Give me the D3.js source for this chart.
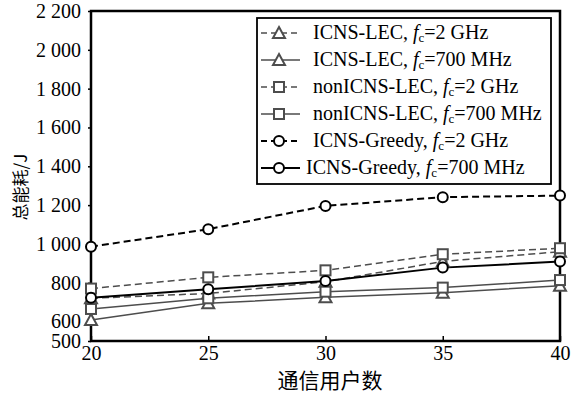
<!DOCTYPE html>
<html>
<head>
<meta charset="utf-8">
<script src="https://cdn.jsdelivr.net/npm/d3@7.9.0/dist/d3.min.js"></script>
<style>
  body { margin: 0; background: #fff; }
  text { font-family: "Liberation Serif", "DejaVu Serif", serif; }
  .cjk { font-family: "Noto Sans CJK SC", sans-serif; }
</style>
</head>
<body>
<svg id="chart" width="580" height="396"></svg>
<script>
// users on the x axis
const users = [20, 25, 30, 35, 40];
const yTicks = [500, 600, 800, 1000, 1200, 1400, 1600, 1800, 2000, 2200];

// total energy (J) per scheme
const lec2G      = [720, 745, 805, 910, 960];
const lec700M    = [608, 694, 725, 749, 785];
const nonLec2G   = [770, 828, 864, 947, 978];
const nonLec700M = [665, 720, 754, 775, 814];
const greedy2G   = [986, 1076, 1196, 1241, 1249];
const greedy700M = [723, 766, 809, 878, 909];

const gray = '#4d4d4d';
const series = [
  { name: 'ICNS-LEC,', fc: '=2 GHz', values: lec2G, dash: true, shape: 'tri', color: gray },
  { name: 'ICNS-LEC,', fc: '=700 MHz', values: lec700M, dash: false, shape: 'tri', color: gray },
  { name: 'nonICNS-LEC,', fc: '=2 GHz', values: nonLec2G, dash: true, shape: 'sq', color: gray },
  { name: 'nonICNS-LEC,', fc: '=700 MHz', values: nonLec700M, dash: false, shape: 'sq', color: gray },
  { name: 'ICNS-Greedy,', fc: '=2 GHz', values: greedy2G, dash: true, shape: 'circ', color: '#000' },
  { name: 'ICNS-Greedy,', fc: '=700 MHz', values: greedy700M, dash: false, shape: 'circ', color: '#000' },
];

const svg = d3.select('#chart');
const pLeft = 91, pRight = 560, pTop = 11, pBottom = 341;

const x = d3.scaleLinear().domain([20, 40]).range([pLeft, pRight]);
const y = d3.scaleLinear().domain([500, 2200]).range([pBottom, pTop]);

// axes
const fmt = (d) => d3.format(',')(d).replace(',', ' ');

const xAxis = svg.append('g')
  .attr('transform', `translate(0,${pBottom})`)
  .call(d3.axisBottom(x).tickValues(users).tickSizeInner(-5).tickSizeOuter(0).tickPadding(5));
xAxis.select('.domain').remove();
xAxis.selectAll('line').attr('stroke', '#000').attr('stroke-width', 1.5);
xAxis.selectAll('text').attr('font-size', 20).attr('fill', '#000');

const yAxis = svg.append('g')
  .attr('transform', `translate(${pLeft},0)`)
  .call(d3.axisLeft(y).tickValues(yTicks).tickFormat(fmt).tickSizeInner(3).tickSizeOuter(0).tickPadding(7));
yAxis.select('.domain').remove();
yAxis.selectAll('line').attr('stroke', '#000').attr('stroke-width', 1.5);
yAxis.selectAll('text').attr('font-size', 20).attr('fill', '#000');

// frame
svg.append('rect')
  .attr('x', pLeft).attr('y', pTop)
  .attr('width', pRight - pLeft).attr('height', pBottom - pTop)
  .attr('fill', 'none').attr('stroke', '#000').attr('stroke-width', 2.5);

// markers
function marker(g, shape, cx, cy, color) {
  if (shape === 'tri') {
    g.append('path')
      .attr('d', `M${cx},${cy - 6}L${cx + 6},${cy + 5}L${cx - 6},${cy + 5}Z`)
      .attr('fill', '#fff').attr('stroke', color).attr('stroke-width', 2);
  } else if (shape === 'sq') {
    g.append('rect')
      .attr('x', cx - 5).attr('y', cy - 5).attr('width', 10).attr('height', 10)
      .attr('fill', '#fff').attr('stroke', color).attr('stroke-width', 2);
  } else {
    g.append('circle')
      .attr('cx', cx).attr('cy', cy).attr('r', 5)
      .attr('fill', '#fff').attr('stroke', color).attr('stroke-width', 2);
  }
}

const line = d3.line().x((d, i) => x(users[i])).y((d) => y(d));

series.forEach((s) => {
  svg.append('path')
    .attr('d', line(s.values))
    .attr('fill', 'none')
    .attr('stroke', s.color)
    .attr('stroke-width', s.color === '#000' ? 2 : 1.5)
    .attr('stroke-dasharray', s.dash ? '7,4' : null);
});
series.forEach((s) => {
  const g = svg.append('g');
  s.values.forEach((v, i) => marker(g, s.shape, x(users[i]), y(v), s.color));
});

// legend
const lg = svg.append('g');
lg.append('rect')
  .attr('x', 257).attr('y', 18).attr('width', 294).attr('height', 166)
  .attr('fill', '#fff').attr('stroke', '#000').attr('stroke-width', 1.8);

series.forEach((s, i) => {
  const cy = 33 + i * 27;
  lg.append('line')
    .attr('x1', 261).attr('x2', 300).attr('y1', cy).attr('y2', cy)
    .attr('stroke', s.color).attr('stroke-width', s.color === '#000' ? 2 : 1.5)
    .attr('stroke-dasharray', s.dash ? '6,4' : null);
  marker(lg, s.shape, 279, cy, s.color);
  const t = lg.append('text')
    .attr('x', i === 5 ? 306 : 313).attr('y', cy + 6)
    .attr('font-size', 20).attr('fill', '#000');
  t.append('tspan').text(s.name + ' ');
  t.append('tspan').attr('font-style', 'italic').text('f');
  t.append('tspan').attr('font-size', 13).attr('dy', 3).text('c');
  t.append('tspan').attr('dy', -3).text(s.fc);
});

// axis titles
svg.append('text')
  .attr('class', 'cjk')
  .attr('x', 330).attr('y', 388)
  .attr('text-anchor', 'middle')
  .attr('font-size', 21).attr('fill', '#000')
  .text('通信用户数');

svg.append('text')
  .attr('class', 'cjk')
  .attr('transform', 'translate(27,187) rotate(-90)')
  .attr('text-anchor', 'middle')
  .attr('font-size', 17).attr('fill', '#000')
  .text('总能耗/J');
</script>
</body>
</html>
